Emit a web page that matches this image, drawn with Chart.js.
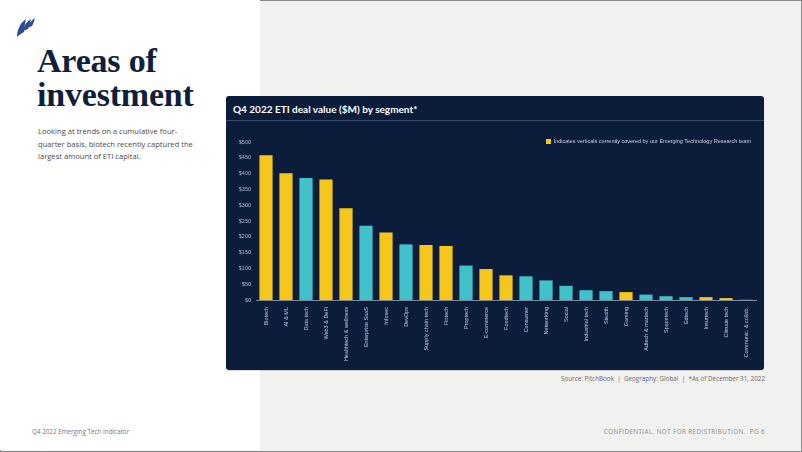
<!DOCTYPE html>
<html>
<head>
<meta charset="utf-8">
<script src="https://cdn.jsdelivr.net/npm/chart.js@4/dist/chart.umd.min.js"></script>
<style>
  html, body { margin: 0; padding: 0; }
  body { width: 802px; height: 452px; position: relative; overflow: hidden; background: #f1f1ef; font-family: "Open Sans", Lato, sans-serif; }
  .page { position: absolute; left: 0; top: 0; width: 800px; height: 450px; border: 1px solid #8a8a8a; }
  .leftcol { position: absolute; left: 0; top: 0; width: 260px; height: 450px; background: #fff; }
  .heading { position: absolute; left: 37px; top: 44px; font-family: "Liberation Serif", serif; font-weight: bold; font-size: 34px; line-height: 34px; color: #0e1f3e; letter-spacing: -0.2px; }
  .para { position: absolute; left: 38px; top: 125px; width: 190px; font-size: 7.6px; line-height: 12.5px; color: #4a4a4a; white-space: nowrap; }
  .panel { position: absolute; left: 226px; top: 96px; width: 538px; height: 274px; background: #0b1d3b; border-radius: 3px; box-shadow: 0 1px 1px rgba(0,0,0,0.15); }
  .ptitle { position: absolute; left: 0; top: 0; width: 538px; height: 25px; border-bottom: 1px solid #3a4c6b; color: #fff; font-family: Lato, sans-serif; font-weight: 700; font-size: 10px; line-height: 27px; padding-left: 7px; box-sizing: border-box; }
  .legend { position: absolute; right: 51px; top: 137px; font-family: "Liberation Sans Narrow", "Liberation Sans", sans-serif; font-size: 5.5px; color: #c7cfdb; line-height: 8px; white-space: nowrap; }
  .legend i { display: inline-block; width: 5px; height: 5px; background: #f6c71b; margin-right: 3px; vertical-align: -0.5px; }
  .chartbox { position: absolute; left: 226px; top: 122px; width: 538px; height: 248px; }
  .source { position: absolute; right: 37px; top: 374px; font-size: 6.3px; color: #6b6b6b; white-space: nowrap; }
  .foot-l { position: absolute; left: 32px; top: 427px; font-size: 6.3px; color: #777; }
  .foot-r { position: absolute; right: 37px; top: 427px; font-size: 6.3px; color: #8a8a8a; letter-spacing: 0.4px; }
  .logo { position: absolute; left: 16px; top: 17px; }
</style>
</head>
<body>
<div class="page"></div>
<div class="leftcol"></div>
<svg class="logo" width="20" height="21" viewBox="0 0 20 21">
  <path d="M1 20 C1 13 4 6 10 2 C9 7 8 11 8 15 C6 16 3 18 1 20 Z" fill="#2c4d93"/>
  <path d="M7 14 C8 9 10 5 15 2 C14 6 13 9 12 12 Z" fill="#2c4d93"/>
  <path d="M11 11 C12 7 15 4 19 1 C18 5 17 7 16 9 Z" fill="#2c4d93"/>
</svg>
<div class="heading">Areas of<br>investment</div>
<div class="para">Looking at trends on a cumulative four-<br>quarter basis, biotech recently captured the<br>largest amount of ETI capital.</div>

<div class="panel"><div class="ptitle">Q4 2022 ETI deal value ($M) by segment*</div></div>
<div class="chartbox"><canvas id="grafico"></canvas></div>
<div class="legend"><i></i>Indicates verticals currently covered by our Emerging Technology Research team</div>

<div class="source">Source: PitchBook&nbsp; | &nbsp;Geography: Global&nbsp; | &nbsp;*As of December 31, 2022</div>
<div class="foot-l">Q4 2022 Emerging Tech Indicator</div>
<div class="foot-r">CONFIDENTIAL. NOT FOR REDISTRIBUTION.&nbsp; PG 6</div>

<script>
const segmentos = [
  "Biotech", "AI & ML", "Data tech", "Web3 & DeFi", "Healthtech & wellness",
  "Enterprise SaaS", "Infosec", "DevOps", "Supply chain tech", "Fintech",
  "Proptech", "E-commerce", "Foodtech", "Consumer", "Networking", "Social",
  "Industrial tech", "Stealth", "Gaming", "Adtech & martech", "Spacetech",
  "Edtech", "Insurtech", "Climate tech", "Communic. & collab."
];
// deal value in $M
const valores = [458, 401, 386, 381, 290, 235, 214, 176, 174, 171, 109, 98, 78, 75, 62, 45, 31, 28, 25, 17, 12, 9, 9, 6, 1];
// verticals covered by the research team (yellow)
const cobertos = [true, true, false, true, true, false, true, false, true, true, false, true, true, false, false, false, false, false, true, false, false, false, true, true, false];
const yMax = 500;
const yStep = 50;

const amarelo = "#f6c71b";
const turquesa = "#41c1c9";
const fonte = "'Liberation Sans Narrow', 'Liberation Sans', sans-serif";

new Chart(document.getElementById("grafico").getContext("2d"), {
  type: "bar",
  data: {
    labels: segmentos,
    datasets: [
      {
        label: "Deal value ($M)",
        data: valores,
        backgroundColor: cobertos.map((c) => (c ? amarelo : turquesa)),
        borderWidth: 0,
        barPercentage: 0.66,
        categoryPercentage: 1,
      },
    ],
  },
  options: {
    responsive: true,
    maintainAspectRatio: false,
    animation: false,
    layout: { padding: { top: 20, right: 8, left: 0, bottom: 6 } },
    plugins: { legend: { display: false }, tooltip: { enabled: false } },
    scales: {
      x: {
        grid: { display: false, drawTicks: false },
        border: { color: "#7d8ba3", width: 1 },
        ticks: {
          autoSkip: false,
          minRotation: 90,
          maxRotation: 90,
          padding: 7,
          color: "#c3cad6",
          font: { family: fonte, size: 5.5 },
        },
        afterFit: (scale) => { scale.height = 64; },
      },
      y: {
        min: 0,
        max: yMax,
        grid: { display: false, drawTicks: false },
        border: { display: false },
        ticks: {
          stepSize: yStep,
          padding: 5,
          color: "#aab4c3",
          font: { family: fonte, size: 5.5 },
          callback: (v) => "$" + v,
        },
        afterFit: (scale) => { scale.width = 30; },
      },
    },
  },
});
</script>
</body>
</html>
